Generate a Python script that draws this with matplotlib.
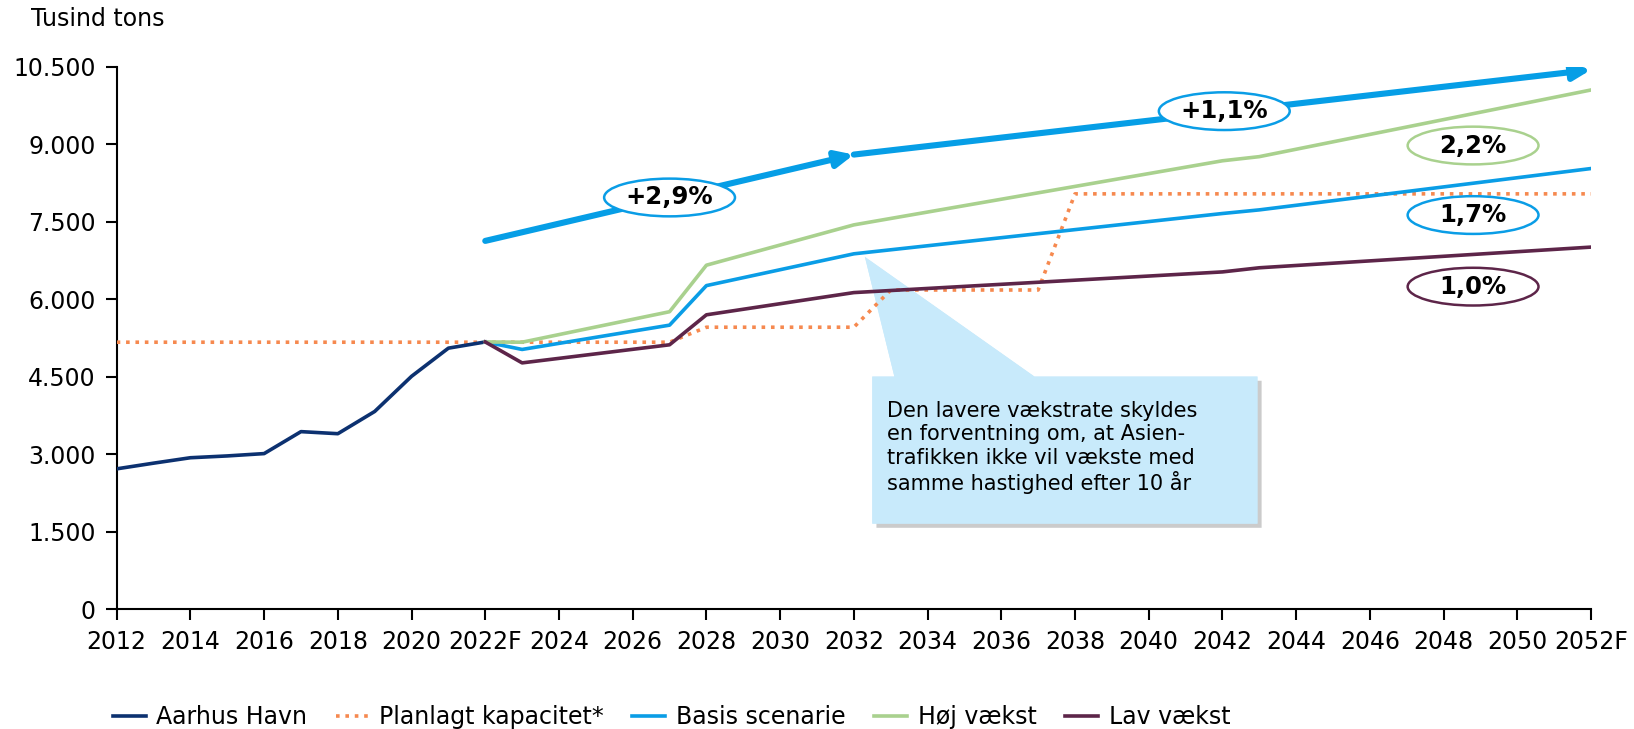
import matplotlib
matplotlib.use("Agg")
import matplotlib.pyplot as plt
import matplotlib.patheffects as pe
from matplotlib.patches import Ellipse, Polygon, FancyArrowPatch

plt.rcParams['font.family'] = ['DejaVu Sans']

# Aarhus Havn, historisk
hist_years = [2012, 2013, 2014, 2015, 2016, 2017, 2018, 2019, 2020, 2021, 2022]
hist_vals = [2720, 2830, 2935, 2970, 3015, 3440, 3400, 3830, 4510, 5055, 5175]

# planlagt kapacitet
cap_years = [2012, 2027, 2028, 2032, 2033, 2037, 2038, 2052]
cap_vals = [5170, 5170, 5460, 5460, 6180, 6180, 8040, 8040]

# scenarier
scen_years = [2022, 2023, 2027, 2028, 2032, 2042, 2043, 2052]
basis_vals = [5175, 5030, 5500, 6265, 6880, 7660, 7730, 8530]
hoj_vals = [5175, 5170, 5760, 6660, 7440, 8680, 8760, 10050]
lav_vals = [5175, 4770, 5120, 5700, 6130, 6530, 6610, 7010]

# trend arrows
arrow_years = [2022, 2032, 2052]
arrow_vals = [7130, 8800, 10440]

rate_labels = ['+2,9%', '+1,1%', '2,2%', '1,7%', '1,0%']
rate_x = [2027.0, 2042.05, 2048.8, 2048.8, 2048.8]
rate_y = [7970, 9640, 8975, 7630, 6245]

tick_years = list(range(2012, 2053, 2))
tick_labels = [str(y) + ('F' if y in (2022, 2052) else '') for y in tick_years]

c_hist = '#0C3170'
c_cap = '#F6894F'
c_basis = '#0A9DE6'
c_hoj = '#A9D18E'
c_lav = '#5D2549'
rate_colors = [c_basis, c_basis, c_hoj, c_basis, c_lav]

fig = plt.figure(figsize=(16.34, 7.29), dpi=100)
ax = fig.add_axes([0.0714, 0.164, 0.9023, 0.7445])

ax.plot(hist_years, hist_vals, color=c_hist, lw=2.6, zorder=4, label='Aarhus Havn')
ax.plot(cap_years, cap_vals, color=c_cap, lw=2.6, ls=(0, (1, 1.6)), zorder=3,
        label='Planlagt kapacitet*')
ax.plot(scen_years, basis_vals, color=c_basis, lw=2.6, zorder=4, label='Basis scenarie')
ax.plot(scen_years, hoj_vals, color=c_hoj, lw=2.6, zorder=4, label='Høj vækst')
ax.plot(scen_years, lav_vals, color=c_lav, lw=2.6, zorder=4, label='Lav vækst')

# trend arrows
for i in range(len(arrow_years) - 1):
    arr = FancyArrowPatch((arrow_years[i], arrow_vals[i]),
                          (arrow_years[i + 1], arrow_vals[i + 1]),
                          arrowstyle='-|>,head_length=0.65,head_width=0.3',
                          mutation_scale=16, lw=4.4, color='#069EE6',
                          shrinkA=0, shrinkB=0, zorder=5)
    ax.add_patch(arr)

# growth labels
for txt, x, y, col in zip(rate_labels, rate_x, rate_y, rate_colors):
    ax.add_patch(Ellipse((x, y), 3.55, 730, facecolor='white', edgecolor=col,
                         lw=1.8, zorder=6))
    ax.text(x, y, txt, ha='center', va='center', fontsize=17.5, fontweight='bold',
            zorder=7)

# callout
box_x0, box_x1 = 2032.5, 2042.95
box_y0, box_y1 = 1660, 4505
callout = Polygon([(box_x0, box_y0), (box_x0, box_y1), (2033.1, box_y1),
                   (2032.3, 6820), (2036.9, box_y1), (box_x1, box_y1),
                   (box_x1, box_y0)], closed=True, facecolor='#C8EAFB',
                  edgecolor='none', zorder=2)
callout.set_path_effects([pe.withSimplePatchShadow(offset=(3, -3), shadow_rgbFace='#999999',
                                                   alpha=0.5), pe.Normal()])
ax.add_patch(callout)
ax.text(2032.9, 4030, 'Den lavere vækstrate skyldes\nen forventning om, at Asien-\n'
        'trafikken ikke vil vækste med\nsamme hastighed efter 10 år',
        ha='left', va='top', fontsize=15, linespacing=1.2, zorder=3)

ax.set_xlim(2012, 2052)
ax.set_ylim(0, 10500)
ax.set_yticks(range(0, 10501, 1500))
ax.set_yticklabels([f'{v:,}'.replace(',', '.') for v in range(0, 10501, 1500)])
ax.set_xticks(tick_years)
ax.set_xticklabels(tick_labels)
ax.tick_params(labelsize=17, length=8, width=1.5, pad=7)
for s in ['top', 'right']:
    ax.spines[s].set_visible(False)
for s in ['left', 'bottom']:
    ax.spines[s].set_linewidth(1.5)

fig.text(0.019, 0.974, 'Tusind tons', fontsize=17, ha='left', va='center')

handles, labels = ax.get_legend_handles_labels()
fig.legend(handles, labels, loc='center left', bbox_to_anchor=(0.0689, 0.016),
           ncol=5, frameon=False, fontsize=17, handlelength=1.4, handletextpad=0.45,
           columnspacing=1.2, borderpad=0, borderaxespad=0)

fig.savefig('out.png', dpi=100)
